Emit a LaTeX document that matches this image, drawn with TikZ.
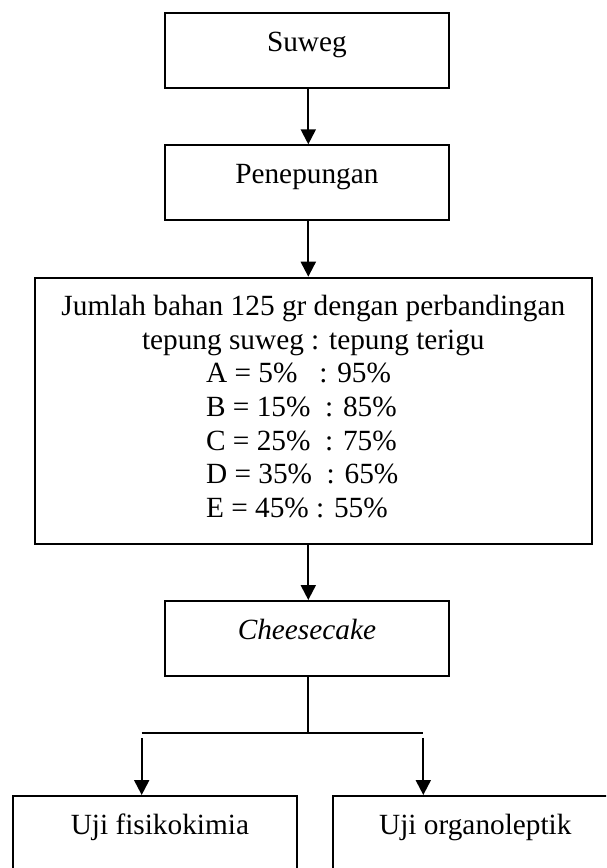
\documentclass[tikz,border=0pt]{standalone}
\usepackage{fontspec}
\setmainfont{Liberation Serif}[Ligatures=NoCommon]
\usetikzlibrary{arrows.meta}
\newcommand\bxt[3]{\parbox[t][#2][t]{#1}{\centering\rule{0pt}{38pt}#3}}
\begin{document}
\begin{tikzpicture}[x=1pt,y=-1pt,
  box/.style={draw, line width=2.1pt, inner sep=0pt, anchor=north west, font=\fontsize{29.3}{33.6}\selectfont},
  arr/.style={line width=2.1pt, -{Triangle[length=15pt,width=15pt]}},
  ln/.style={line width=2.1pt}]
\clip (0,0) rectangle (606,868);
\fill[white] (0,0) rectangle (606,868);
\node[box] (b1) at (164,12) {\bxt{283.7pt}{75pt}{Suweg}};
\node[box] (b2) at (164,144.3) {\bxt{283.7pt}{75pt}{Penepungan}};
\node[box] (b3) at (33.5,276.7) {\bxt{557.5pt}{266pt}{Jumlah bahan 125 gr dengan perbandingan\\
tepung suweg : tepung terigu\\
\makebox[214.5pt][l]{A = 5\%\ \ \ : 95\%}\\
\makebox[214.5pt][l]{B = 15\%\ \ : 85\%}\\
\makebox[214.5pt][l]{C = 25\%\ \ : 75\%}\\
\makebox[214.5pt][l]{D = 35\%\ \ : 65\%}\\
\makebox[214.5pt][l]{E = 45\% : 55\%}}};
\node[box] (b4) at (164,600) {\bxt{283.7pt}{75pt}{\itshape Cheesecake}};
\node[box] (b5) at (11.7,795) {\bxt{284.3pt}{76pt}{\hspace*{10pt}Uji fisikokimia}};
\node[box] (b6) at (332,795) {\bxt{284.6pt}{76pt}{Uji organoleptik}};
\coordinate (sp) at (308.3,0);
\coordinate (L) at (141.7,733.3);
\coordinate (R) at (423.3,733.3);
\draw[arr] (b1.south -| sp) -- (b2.north -| sp);
\draw[arr] (b2.south -| sp) -- (b3.north -| sp);
\draw[arr] (b3.south -| sp) -- (b4.north -| sp);
\draw[ln] (b4.south -| sp) -- (L -| sp);
\draw[ln] (L) -- (R);
\draw[arr] ([yshift=-4.5pt]L) -- (L |- b5.north);
\draw[arr] ([yshift=-4.5pt]R) -- (R |- b6.north);
\end{tikzpicture}
\end{document}
